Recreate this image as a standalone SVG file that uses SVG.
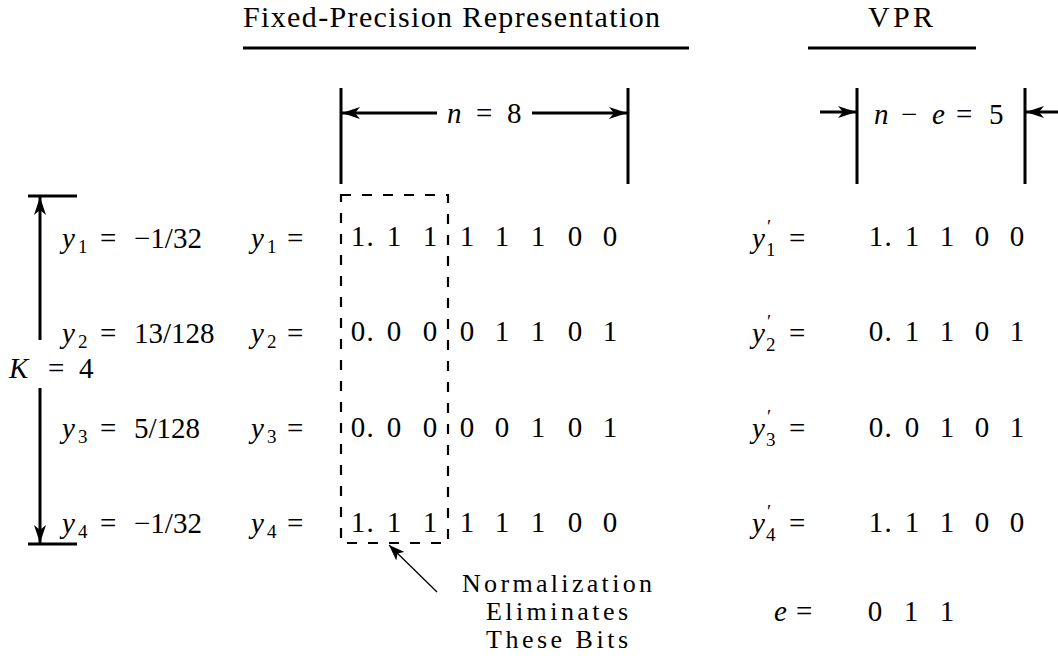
<svg xmlns="http://www.w3.org/2000/svg" width="1058" height="670" viewBox="0 0 1058 670" font-family="'Liberation Serif', 'Times New Roman', Times, serif">
<style>
text{font-size:29px;fill:#000}
.it{font-style:italic}
.sub{font-size:19px}
.c{text-anchor:middle}
.hdr{font-size:30px}
.note{font-size:26px;text-anchor:middle}
.thick{stroke:#000;stroke-width:3;fill:none}
.thin{stroke:#000;stroke-width:1.3;fill:none}
.dash{stroke:#000;stroke-width:2.2;fill:none;stroke-dasharray:10 11}
</style>
<defs>
<marker id="ah" viewBox="0 0 18 12" refX="18" refY="6" markerWidth="18" markerHeight="12" markerUnits="userSpaceOnUse" orient="auto">
<path d="M0,0 L18,6 L0,12 L5,6 Z" fill="#000"/>
</marker>
<marker id="ahs" viewBox="0 0 16 12" refX="16" refY="6" markerWidth="16" markerHeight="12" markerUnits="userSpaceOnUse" orient="auto">
<path d="M0,0 L16,6 L0,12 L4,6 Z" fill="#000"/>
</marker>
</defs>

<g id="headers">
<text x="243" y="27" class="hdr" textLength="417" lengthAdjust="spacing">Fixed-Precision Representation</text>
<line class="thick" x1="243" y1="48" x2="689" y2="48"/>
<text x="868" y="27" class="hdr" textLength="65" lengthAdjust="spacing">VPR</text>
<line class="thick" x1="808" y1="48" x2="976" y2="48"/>
</g>

<g id="dimension-n">
<line class="thick" x1="341" y1="88" x2="341" y2="184"/>
<line class="thick" x1="628" y1="88" x2="628" y2="184"/>
<text x="447" y="123" class="it">n</text>
<text x="476" y="123">=</text>
<text x="507" y="123">8</text>
</g>

<g id="dimension-ne">
<line class="thick" x1="857" y1="88" x2="857" y2="184"/>
<line class="thick" x1="1025" y1="88" x2="1025" y2="184"/>
<text x="874" y="124" class="it">n</text>
<text x="901" y="124">−</text>
<text x="932" y="124" class="it">e</text>
<text x="956" y="124">=</text>
<text x="989" y="124">5</text>
</g>

<g id="k-bracket">
<line class="thick" x1="28" y1="196" x2="77" y2="196"/>
<line class="thick" x1="28" y1="544" x2="77" y2="544"/>
<text x="9" y="378" class="it">K</text>
<text x="48" y="378">=</text>
<text x="79" y="378">4</text>
</g>

<g id="labels-left">
<text x="62" y="248" class="it">y</text><text x="78" y="253" class="sub">1</text>
<text x="100" y="248">=</text><text x="134" y="248">−1/32</text>
<text x="62" y="343" class="it">y</text><text x="78" y="348" class="sub">2</text>
<text x="100" y="343">=</text><text x="134" y="343">13/128</text>
<text x="62" y="438" class="it">y</text><text x="78" y="443" class="sub">3</text>
<text x="100" y="438">=</text><text x="134" y="438">5/128</text>
<text x="62" y="533" class="it">y</text><text x="78" y="538" class="sub">4</text>
<text x="100" y="533">=</text><text x="134" y="533">−1/32</text>

<text x="251" y="248" class="it">y</text><text x="267" y="253" class="sub">1</text><text x="287" y="248">=</text>
<text x="251" y="343" class="it">y</text><text x="267" y="348" class="sub">2</text><text x="287" y="343">=</text>
<text x="251" y="438" class="it">y</text><text x="267" y="443" class="sub">3</text><text x="287" y="438">=</text>
<text x="251" y="533" class="it">y</text><text x="267" y="538" class="sub">4</text><text x="287" y="533">=</text>
</g>

<g id="fixed-bits">
<rect class="dash" x="341" y="195" width="107" height="348"/>
<g class="c">
<text x="358" y="246">1</text><text x="370" y="246">.</text><text x="394" y="246">1</text><text x="430" y="246">1</text><text x="467" y="246">1</text><text x="502" y="246">1</text><text x="538" y="246">1</text><text x="575" y="246">0</text><text x="610" y="246">0</text>
<text x="358" y="341">0</text><text x="370" y="341">.</text><text x="394" y="341">0</text><text x="430" y="341">0</text><text x="467" y="341">0</text><text x="502" y="341">1</text><text x="538" y="341">1</text><text x="575" y="341">0</text><text x="610" y="341">1</text>
<text x="358" y="437">0</text><text x="370" y="437">.</text><text x="394" y="437">0</text><text x="430" y="437">0</text><text x="467" y="437">0</text><text x="502" y="437">0</text><text x="538" y="437">1</text><text x="575" y="437">0</text><text x="610" y="437">1</text>
<text x="358" y="532">1</text><text x="370" y="532">.</text><text x="394" y="532">1</text><text x="430" y="532">1</text><text x="467" y="532">1</text><text x="502" y="532">1</text><text x="538" y="532">1</text><text x="575" y="532">0</text><text x="610" y="532">0</text>
</g>
</g>

<g id="note">
<text x="557" y="592" class="note" textLength="190" lengthAdjust="spacing">Normalization</text>
<text x="557" y="620" class="note" textLength="142" lengthAdjust="spacing">Eliminates</text>
<text x="557" y="648" class="note" textLength="142" lengthAdjust="spacing">These Bits</text>
</g>

<g id="vpr-bits">
<text x="752" y="248" class="it">y</text><text x="767" y="233" class="sub">′</text><text x="766" y="256" class="sub">1</text><text x="789" y="248">=</text>
<text x="752" y="343" class="it">y</text><text x="767" y="328" class="sub">′</text><text x="766" y="351" class="sub">2</text><text x="789" y="343">=</text>
<text x="752" y="438" class="it">y</text><text x="767" y="423" class="sub">′</text><text x="766" y="446" class="sub">3</text><text x="789" y="438">=</text>
<text x="752" y="533" class="it">y</text><text x="767" y="518" class="sub">′</text><text x="766" y="541" class="sub">4</text><text x="789" y="533">=</text>
<g class="c">
<text x="876" y="246">1</text><text x="888" y="246">.</text><text x="912" y="246">1</text><text x="947" y="246">1</text><text x="982" y="246">0</text><text x="1017" y="246">0</text>
<text x="876" y="341">0</text><text x="888" y="341">.</text><text x="912" y="341">1</text><text x="947" y="341">1</text><text x="982" y="341">0</text><text x="1017" y="341">1</text>
<text x="876" y="437">0</text><text x="888" y="437">.</text><text x="912" y="437">0</text><text x="947" y="437">1</text><text x="982" y="437">0</text><text x="1017" y="437">1</text>
<text x="876" y="532">1</text><text x="888" y="532">.</text><text x="912" y="532">1</text><text x="947" y="532">1</text><text x="982" y="532">0</text><text x="1017" y="532">0</text>
</g>
<text x="774" y="621" class="it">e</text><text x="796" y="621">=</text>
<g class="c"><text x="875" y="621">0</text><text x="911" y="621">1</text><text x="947" y="621">1</text></g>
</g>

<g id="connectors">
<line class="thick" x1="437" y1="113" x2="342" y2="113" marker-end="url(#ah)"/>
<line class="thick" x1="532" y1="113" x2="627" y2="113" marker-end="url(#ah)"/>
<line class="thick" x1="820" y1="112" x2="856" y2="112" marker-end="url(#ah)"/>
<line class="thick" x1="1058" y1="112" x2="1026" y2="112" marker-end="url(#ah)"/>
<line class="thick" x1="40" y1="340" x2="40" y2="197" marker-end="url(#ah)"/>
<line class="thick" x1="40" y1="388" x2="40" y2="543" marker-end="url(#ah)"/>
<line class="thin" x1="437" y1="592" x2="389" y2="545" marker-end="url(#ahs)"/>
</g>
</svg>
